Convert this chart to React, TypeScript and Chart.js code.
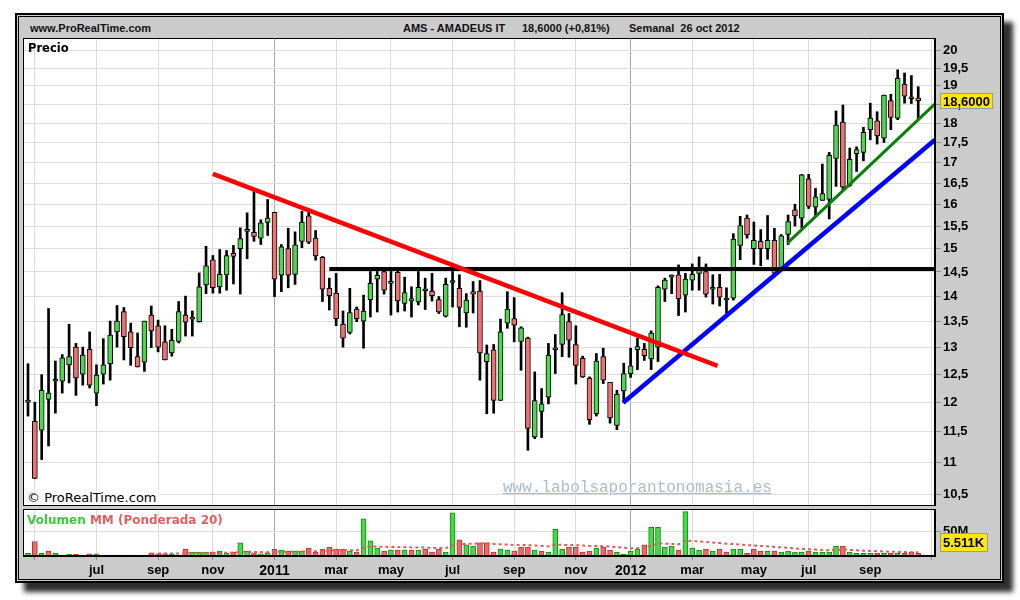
import React, { useEffect, useRef } from 'react';
import { Chart, registerables } from 'chart.js';

Chart.register(...registerables);

// ---------- data (weekly candles, Monday 26 Apr 2010 .. 22 Oct 2012) ----------
const START_UTC = Date.UTC(2010, 3, 26);

const opens = [12.00, 11.67, 11.52, 12.05, 12.37, 12.37, 12.67, 13.00, 12.50, 12.96,
  12.16, 12.50, 12.69, 13.29, 13.69, 13.29, 12.82, 12.72, 13.62, 13.41,
  13.10, 12.89, 13.11, 13.62, 13.54, 13.49, 14.23, 14.76, 14.19, 14.44,
  14.90, 15.00, 15.38, 15.36, 15.23, 15.58, 15.81, 14.43, 15.00, 14.45,
  15.16, 15.73, 15.23, 14.81, 14.16, 14.06, 13.44, 13.28, 13.74, 13.50,
  13.93, 14.35, 14.51, 14.26, 14.49, 13.85, 13.90, 13.88, 14.11, 14.10,
  13.93, 13.60, 14.28, 14.16, 13.66, 14.09, 14.10, 12.73, 12.95, 12.03,
  13.46, 13.55, 13.11, 13.17, 11.41, 11.84, 12.09, 12.98, 13.05, 13.49,
  13.05, 12.79, 12.43, 11.80, 12.82, 12.35, 11.60, 12.20, 12.51, 12.95,
  12.96, 12.78, 13.00, 14.14, 14.39, 14.44, 14.02, 14.33, 14.47, 14.51,
  14.14, 14.18, 13.92, 13.96, 15.07, 15.68, 15.00, 15.16, 15.00, 15.18,
  14.58, 15.31, 15.87, 15.68, 16.60, 15.93, 16.09, 16.11, 17.10, 18.03,
  16.44, 17.22, 17.25, 17.83, 18.06, 17.61, 18.60, 18.13, 19.05, 18.65,
  18.67];

const highs = [12.69, 12.00, 12.49, 13.75, 12.74, 12.86, 13.44, 13.07, 13.00, 13.29,
  12.67, 13.16, 13.50, 13.81, 13.77, 13.46, 13.27, 13.50, 13.80, 13.52,
  13.41, 13.34, 13.89, 14.00, 13.70, 14.48, 15.05, 14.85, 14.98, 14.96,
  15.07, 15.46, 15.80, 16.29, 15.64, 16.11, 15.81, 15.09, 15.45, 15.37,
  15.84, 15.85, 15.40, 14.83, 14.37, 14.47, 13.70, 14.16, 13.78, 14.02,
  14.51, 14.51, 14.54, 14.51, 14.54, 14.39, 14.19, 14.51, 14.37, 14.47,
  13.99, 14.37, 14.51, 14.44, 14.05, 14.30, 14.32, 13.04, 13.05, 13.54,
  14.09, 13.97, 13.39, 13.19, 12.54, 12.24, 13.07, 13.24, 14.07, 13.65,
  13.41, 12.83, 12.45, 12.88, 12.98, 12.35, 12.21, 12.70, 12.98, 13.17,
  13.07, 13.31, 14.21, 14.37, 14.44, 14.65, 14.47, 14.67, 14.82, 14.67,
  14.44, 14.45, 14.17, 15.33, 15.72, 15.75, 15.59, 15.42, 15.74, 15.45,
  15.31, 15.75, 16.00, 16.71, 16.71, 16.37, 16.96, 17.25, 18.32, 18.48,
  17.36, 17.39, 17.89, 18.53, 18.30, 18.75, 18.77, 19.45, 19.36, 19.29,
  18.98];

const lows = [11.76, 10.74, 11.04, 11.26, 11.81, 12.16, 12.34, 12.12, 12.30, 12.25,
  11.94, 12.32, 12.39, 13.00, 12.76, 12.66, 12.63, 12.55, 12.99, 12.91,
  12.76, 12.83, 13.08, 13.21, 13.21, 13.48, 14.05, 14.06, 14.06, 14.12,
  14.25, 14.04, 14.78, 15.16, 15.09, 15.29, 13.99, 14.09, 14.17, 14.24,
  15.02, 15.11, 14.75, 13.89, 13.72, 13.41, 13.00, 13.25, 13.49, 12.98,
  13.58, 13.68, 14.04, 13.62, 13.68, 13.70, 13.58, 13.82, 13.73, 13.90,
  13.65, 13.58, 13.78, 13.39, 13.38, 13.66, 12.39, 11.80, 11.81, 12.03,
  13.36, 13.10, 12.57, 11.19, 11.38, 11.40, 11.97, 12.51, 12.82, 12.81,
  12.32, 12.44, 11.62, 11.76, 12.33, 11.64, 11.53, 12.00, 12.44, 12.58,
  12.75, 12.58, 12.73, 13.89, 14.05, 13.61, 13.68, 14.12, 14.12, 13.98,
  13.84, 13.80, 13.66, 13.92, 14.76, 15.23, 14.66, 14.63, 14.77, 14.44,
  14.54, 15.09, 15.50, 15.45, 15.90, 15.73, 16.09, 15.66, 16.42, 16.33,
  16.42, 16.78, 17.04, 17.57, 17.46, 17.50, 17.83, 18.09, 18.53, 18.52,
  18.09];

const closes = [12.01, 10.74, 12.21, 12.16, 12.38, 12.80, 12.82, 12.43, 12.85, 12.30,
  12.48, 12.67, 13.23, 13.50, 13.20, 12.99, 12.63, 13.50, 13.31, 13.00,
  12.76, 13.13, 13.69, 13.48, 13.55, 14.19, 14.63, 14.17, 14.45, 14.85,
  14.83, 15.22, 15.39, 15.27, 15.57, 15.68, 14.35, 15.04, 14.43, 15.08,
  15.59, 15.14, 14.84, 14.14, 14.01, 13.55, 13.17, 13.67, 13.55, 13.70,
  14.26, 14.43, 14.12, 14.27, 13.90, 14.07, 13.95, 14.18, 14.12, 14.01,
  13.68, 14.24, 14.29, 13.77, 13.92, 14.04, 12.89, 12.88, 12.03, 13.29,
  13.74, 13.42, 13.37, 11.55, 12.03, 11.97, 12.85, 12.95, 13.63, 13.13,
  12.66, 12.45, 11.70, 12.74, 12.39, 11.73, 12.14, 12.51, 12.65, 13.01,
  12.84, 13.27, 14.18, 14.33, 14.40, 13.95, 14.35, 14.45, 14.58, 14.04,
  14.15, 13.98, 13.93, 15.21, 15.51, 15.30, 15.18, 15.00, 15.18, 14.47,
  15.28, 15.60, 15.73, 16.70, 15.95, 16.17, 16.25, 17.18, 17.95, 16.40,
  17.08, 17.32, 17.76, 18.13, 17.67, 18.75, 18.15, 19.21, 18.72, 18.66,
  18.60];

// weekly volume, millions
const volumes = [5.7, 30, 5.7, 10, 5.7, 2, 3.6, 3.6, 2, 4.3,
  4.3, 2, 2, 2, 2, 2, 2, 2, 6.4, 4.3,
  4.3, 3.6, 2, 14.3, 7.9, 7.9, 7.9, 7.9, 10, 5.7,
  7.9, 27, 10, 6.4, 4.3, 6.4, 14.3, 12.2, 10, 10,
  10, 16.4, 7.9, 14.3, 18.6, 14.3, 14.3, 10, 7.9, 76.5,
  31.5, 16.4, 10, 12.2, 12.2, 12.2, 12.2, 12.2, 14.3, 7.9,
  14.3, 7.9, 89, 33.6, 22.9, 20.7, 27, 27, 7.9, 14.3,
  12.2, 10, 18.6, 18.6, 12.2, 10, 7.9, 55, 14.3, 18.6,
  18.6, 7.9, 10, 16.4, 18.6, 12.2, 7.9, 3.6, 10, 14.3,
  22.9, 59.3, 59.3, 18.6, 20.7, 12.2, 91.5, 16.4, 12.2, 14.3,
  10, 14.3, 7.9, 14.3, 14.3, 5.7, 14.3, 10, 10, 10,
  7.9, 10, 7.9, 7.9, 10, 7.9, 7.9, 7.9, 20.7, 20.7,
  7.9, 5.7, 5.7, 5.7, 5.7, 5.7, 5.7, 5.7, 5.7, 7.9,
  5.5];

// weighted moving average (20) of volume, millions
const volumeMA = [null, null, null, null, null, null, null, null, null, null,
  null, null, null, null, null, null, null, null, null,
  5.0, 5.0, 5.1, 5.1,
  5.5, 5.8, 6.0, 6.3, 6.5, 6.8, 6.8, 7.0,
  8.5, 8.6, 8.4, 8.0, 7.8, 8.4, 8.8, 8.9, 9.0, 9.1,
  10.0, 9.8, 10.4, 11.3, 11.8, 12.2, 12.0, 11.6,
  17.5, 19.5, 19.5, 19.0, 18.7, 18.4, 18.1, 17.8, 17.5, 17.3, 16.8, 16.6, 16.0,
  22.0, 24.5, 25.0, 25.3, 25.8, 26.3, 25.0,
  24.3, 23.6, 22.8, 22.6, 22.4, 21.7, 20.8, 19.8,
  23.5, 23.0, 22.8, 22.5, 21.5, 20.8, 20.5, 20.3,
  19.5, 18.5, 17.0, 16.2, 15.8, 16.3,
  21.5, 26.0, 25.5, 25.0, 24.0,
  32.0, 31.0, 30.0, 29.0, 27.8, 26.8, 25.5,
  24.5, 23.8, 22.5, 21.8, 20.8, 19.8, 18.8, 17.8,
  16.8, 15.8, 14.8, 14.0, 13.2, 12.4,
  11.8, 12.5, 13.0, 12.5, 11.8, 11.0, 10.4, 9.8, 9.2, 8.8, 8.4, 8.0, 7.9, 7.6];

// trend lines: [week index, price]
const resistanceLine = [[27.0, 16.72], [100.7, 12.65]];
const horizontalLevel = [[44.0, 14.56], [132.45, 14.56]];
const supportLine = [[86.9, 11.99], [132.45, 17.57]];
const shortSupportLine = [[110.9, 15.12], [132.45, 18.51]];

const priceTicks = [10.5, 11, 11.5, 12, 12.5, 13, 13.5, 14, 14.5, 15, 15.5, 16, 16.5, 17, 17.5, 18, 18.5, 19, 19.5, 20];
const volumeTicks = [50];
const volumeTickLabel = '50M';
const lastVolumeLabel = '5.511K';

const gridMonths = [[2010, 5], [2010, 7], [2010, 9], [2010, 11], [2011, 1], [2011, 3], [2011, 5], [2011, 7],
  [2011, 9], [2011, 11], [2012, 1], [2012, 3], [2012, 5], [2012, 7], [2012, 9], [2012, 11]];
const monthLabels = ['', 'jul', 'sep', 'nov', '2011', 'mar', 'may', 'jul', 'sep', 'nov', '2012', 'mar', 'may', 'jul', 'sep', ''];

// ---------- layout constants ----------
const X_MIN = -0.73;
const X_MAX = 132.45;
const PRICE_MIN = 10.32;
const PRICE_MAX = 20.37;
const VOL_MAX = 97;

const SANS = '"Liberation Sans", Arial, sans-serif';
const DEJAVU = '"DejaVu Sans", Verdana, sans-serif';

const monthIndex = ([y, m]: number[]) => Math.ceil((Date.UTC(y, m - 1, 1) - START_UTC) / (7 * 86400000));

const paneFrame = {
  id: 'paneFrame',
  beforeDraw(chart: any) {
    const { ctx, chartArea: a } = chart;
    ctx.save();
    ctx.fillStyle = '#ffffff';
    ctx.fillRect(a.left, a.top, a.right - a.left, a.bottom - a.top);
    ctx.restore();
  },
  afterDraw(chart: any) {
    const { ctx, chartArea: a } = chart;
    ctx.save();
    ctx.strokeStyle = '#000';
    ctx.lineWidth = 1;
    ctx.strokeRect(a.left + 0.5, a.top + 0.5, a.right - a.left - 1, a.bottom - a.top - 1);
    ctx.restore();
  },
};

const priceTag = {
  id: 'priceTag',
  afterDraw(chart: any) {
    const { ctx, chartArea: a, scales } = chart;
    const last = closes[closes.length - 1];
    const y = Math.round(scales.y.getPixelForValue(last));
    const x = Math.round(a.right) + 5;
    ctx.save();
    ctx.fillStyle = '#ffe800';
    ctx.fillRect(x, y - 8, 53, 16);
    ctx.strokeStyle = '#8d9db0';
    ctx.lineWidth = 1;
    ctx.strokeRect(x + 0.5, y - 7.5, 52, 15);
    ctx.fillStyle = '#000';
    ctx.font = `bold 13px ${SANS}`;
    ctx.textBaseline = 'middle';
    ctx.fillText(last.toFixed(4).replace('.', ','), x + 3, y + 1);
    ctx.restore();
  },
};

const volumeTag = {
  id: 'volumeTag',
  afterDraw(chart: any) {
    const { ctx, chartArea: a } = chart;
    const x = Math.round(a.right) + 5;
    const yb = Math.round(a.bottom) - 4;
    ctx.save();
    ctx.fillStyle = '#ffe800';
    ctx.fillRect(x, yb - 19, 48, 19);
    ctx.strokeStyle = '#8d9db0';
    ctx.lineWidth = 1;
    ctx.strokeRect(x + 0.5, yb - 18.5, 47, 18);
    ctx.fillStyle = '#000';
    ctx.font = `bold 13px ${SANS}`;
    ctx.textBaseline = 'middle';
    ctx.fillText(lastVolumeLabel, x + 3, yb - 9);
    ctx.restore();
  },
};

export default function App() {
  const priceRef = useRef<HTMLCanvasElement>(null);
  const volRef = useRef<HTMLCanvasElement>(null);

  useEffect(() => {
    const idx = opens.map((_, i) => i);
    const tickIdx = gridMonths.map(monthIndex);
    const yearIdx = tickIdx.filter((_, k) => /^\d{4}$/.test(monthLabels[k]));
    const gridColor = (c: any) => (c.tick && yearIdx.includes(c.tick.value) ? '#a6a6a6' : '#dcdcdc');

    const xBase = () => ({
      type: 'linear' as const,
      min: X_MIN,
      max: X_MAX,
      offset: false,
      bounds: 'data' as const,
      afterBuildTicks: (s: any) => { s.ticks = tickIdx.map((v) => ({ value: v })); },
    });

    const bodyColors = idx.map((i) => (closes[i] >= opens[i] ? '#4fd64f' : '#ee7272'));
    const volUp = idx.map((i) => (i === 0 ? true : closes[i] >= closes[i - 1]));

    const lineDs = (label: string, pts: number[][], color: string, width: number) => ({
      type: 'line' as const,
      label,
      data: pts.map(([x, y]) => ({ x, y })),
      borderColor: color,
      borderWidth: width,
      pointRadius: 0,
      borderCapStyle: 'butt' as const,
      order: 0,
    });

    const price = new Chart(priceRef.current!, {
      type: 'bar',
      data: {
        datasets: [
          lineDs('Resistencia', resistanceLine, '#ff0000', 4.5),
          lineDs('Nivel 14,5', horizontalLevel, '#000000', 4),
          lineDs('Soporte', supportLine, '#0000ff', 4.5),
          lineDs('Soporte corto', shortSupportLine, '#0a800a', 3),
          {
            type: 'bar',
            label: 'Cuerpo',
            data: idx.map((i) => ({ x: i, y: [opens[i], closes[i]] })) as any,
            backgroundColor: bodyColors,
            borderColor: '#000',
            borderWidth: 1,
            borderSkipped: false,
            barThickness: 5,
            minBarLength: 2,
            grouped: false,
            order: 1,
          } as any,
          {
            type: 'bar',
            label: 'Mecha',
            data: idx.map((i) => ({ x: i, y: [lows[i], highs[i]] })) as any,
            backgroundColor: '#000',
            borderWidth: 0,
            barThickness: 2,
            grouped: false,
            order: 2,
          } as any,
        ],
      },
      options: {
        animation: false,
        responsive: false,
        devicePixelRatio: 1,
        events: [],
        layout: { padding: 0 },
        plugins: { legend: { display: false }, tooltip: { enabled: false } },
        scales: {
          x: {
            ...xBase(),
            ticks: { display: false },
            grid: { color: gridColor, offset: false, drawTicks: false },
            border: { color: '#000' },
            afterFit: (s: any) => { s.height = 0; s.paddingLeft = 0; s.paddingRight = 0; },
          } as any,
          y: {
            type: 'logarithmic',
            position: 'right',
            min: PRICE_MIN,
            max: PRICE_MAX,
            bounds: 'data',
            beginAtZero: false,
            afterBuildTicks: (s: any) => { s.ticks = priceTicks.map((v) => ({ value: v })); },
            afterFit: (s: any) => { s.width = 65; s.paddingTop = 0; s.paddingBottom = 0; },
            ticks: {
              autoSkip: false,
              padding: 2,
              color: '#000',
              font: { family: SANS, size: 13, weight: 'bold' },
              callback: (v: any) => String(v).replace('.', ','),
            },
            grid: { color: '#dcdcdc', tickColor: '#8a8a8a', tickLength: 6, drawTicks: true },
            border: { color: '#000' },
          } as any,
        },
      },
      plugins: [paneFrame, priceTag],
    });

    const vol = new Chart(volRef.current!, {
      type: 'bar',
      data: {
        datasets: [
          {
            type: 'line',
            label: 'MM (Ponderada 20)',
            data: idx.map((i) => ({ x: i, y: volumeMA[i] })) as any,
            borderColor: '#e25a5a',
            borderWidth: 2,
            borderDash: [3, 3],
            pointRadius: 0,
            spanGaps: false,
            order: 0,
          } as any,
          {
            type: 'bar',
            label: 'Volumen',
            data: idx.map((i) => ({ x: i, y: volumes[i] })) as any,
            backgroundColor: volUp.map((u) => (u ? '#48d848' : '#ee6a6a')),
            borderColor: volUp.map((u) => (u ? '#128a12' : '#b83030')),
            borderWidth: 1,
            borderSkipped: 'start',
            barThickness: 5,
            grouped: false,
            order: 1,
          } as any,
        ],
      },
      options: {
        animation: false,
        responsive: false,
        devicePixelRatio: 1,
        events: [],
        layout: { padding: 0 },
        plugins: { legend: { display: false }, tooltip: { enabled: false } },
        scales: {
          x: {
            ...xBase(),
            ticks: {
              autoSkip: false,
              maxRotation: 0,
              minRotation: 0,
              padding: 3,
              color: '#000',
              font: (c: any) => (c.tick && yearIdx.includes(c.tick.value)
                ? { family: SANS, size: 14, weight: 'bold' }
                : { family: SANS, size: 13, weight: 'bold' }),
              callback: (_v: any, i: number) => monthLabels[i],
            },
            grid: { color: gridColor, offset: false, drawTicks: true, tickLength: 4, tickColor: '#8a8a8a' },
            border: { color: '#000' },
            afterFit: (s: any) => { s.height = 28; s.paddingLeft = 0; s.paddingRight = 0; },
          } as any,
          y: {
            type: 'linear',
            position: 'right',
            min: 0,
            max: VOL_MAX,
            bounds: 'data',
            afterBuildTicks: (s: any) => { s.ticks = volumeTicks.map((v) => ({ value: v })); },
            afterFit: (s: any) => { s.width = 65; s.paddingTop = 0; s.paddingBottom = 0; },
            ticks: {
              autoSkip: false,
              padding: 2,
              color: '#000',
              font: { family: SANS, size: 13, weight: 'bold' },
              callback: () => volumeTickLabel,
            },
            grid: { color: '#dcdcdc', tickColor: '#8a8a8a', tickLength: 6, drawTicks: true },
            border: { color: '#000' },
          } as any,
        },
      },
      plugins: [paneFrame, volumeTag],
    });

    return () => {
      price.destroy();
      vol.destroy();
    };
  }, []);

  const header: React.CSSProperties = {
    position: 'absolute', top: 22, height: 16, lineHeight: '16px',
    font: `bold 11px ${SANS}`, color: '#111', whiteSpace: 'pre',
  };

  return (
    <div style={{ position: 'absolute', left: 0, top: 0, width: 1020, height: 600, background: '#fff', overflow: 'hidden' }}>
      <div style={{
        position: 'absolute', left: 15, top: 13, width: 989, height: 570, boxSizing: 'border-box',
        border: '2px solid #000', background: '#cbcbcb', boxShadow: '9px 9px 5px rgba(0,0,0,0.82)',
      }} />
      <div style={{
        position: 'absolute', left: 18, top: 16, width: 983, height: 564, boxSizing: 'border-box',
        border: '1px solid #000',
      }} />
      <div style={{ ...header, left: 30 }}>www.ProRealTime.com</div>
      <div style={{ ...header, left: 403 }}>AMS - AMADEUS IT</div>
      <div style={{ ...header, left: 522 }}>18,6000 (+0,81%)</div>
      <div style={{ ...header, left: 629 }}>Semanal  26 oct 2012</div>

      <canvas ref={priceRef} width={977} height={468}
        style={{ position: 'absolute', left: 23, top: 38, width: 977, height: 468 }} />
      <canvas ref={volRef} width={977} height={75}
        style={{ position: 'absolute', left: 23, top: 509, width: 977, height: 75 }} />

      <div style={{ position: 'absolute', left: 28, top: 41, lineHeight: '16px', font: `bold 11.5px ${DEJAVU}`, color: '#000' }}>Precio</div>
      <div style={{
        position: 'absolute', left: 24, top: 490, height: 15, lineHeight: '16px', padding: '0 3px',
        background: '#fff', font: `13px ${DEJAVU}`, color: '#000',
      }}>© ProRealTime.com</div>
      <div style={{
        position: 'absolute', left: 503, top: 479, lineHeight: '18px', font: `16px "Liberation Mono", monospace`,
        color: '#a9bad3', textDecoration: 'underline',
      }}>www.labolsaporantonomasia.es</div>
      <div style={{ position: 'absolute', left: 27, top: 513, lineHeight: '16px', font: `bold 12px ${DEJAVU}`, whiteSpace: 'pre' }}>
        <span style={{ color: '#3ec83e' }}>Volumen</span>
        <span style={{ color: '#e06060' }}> MM (Ponderada 20)</span>
      </div>
    </div>
  );
}
